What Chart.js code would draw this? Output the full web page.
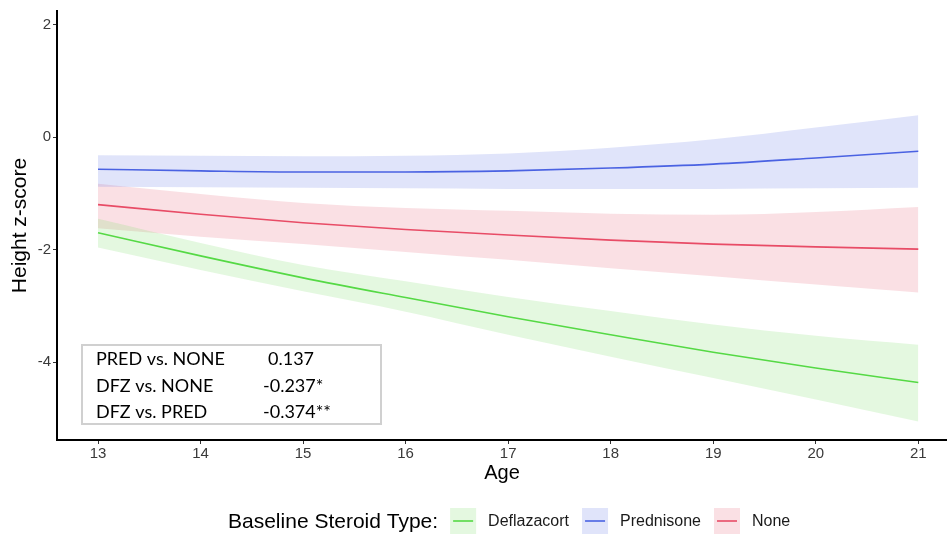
<!DOCTYPE html>
<html>
<head>
<meta charset="utf-8">
<script src="https://cdn.jsdelivr.net/npm/chart.js@4/dist/chart.umd.min.js"></script>
<style>
  html, body { margin: 0; padding: 0; background: #fff; overflow: hidden; }
  #wrap { width: 947px; height: 536px; }
</style>
</head>
<body>
<div id="wrap"><canvas id="c" width="947" height="536"></canvas></div>
<script>
// ---- data ----
const ages = [13, 14, 15, 16, 17, 18, 19, 20, 21];
const seriesNames = ['Deflazacort', 'Prednisone', 'None'];

const dfzMean  = [-1.70, -2.11, -2.50, -2.85, -3.19, -3.51, -3.82, -4.10, -4.36];
const dfzUpper = [-1.45, -1.88, -2.27, -2.56, -2.84, -3.09, -3.33, -3.53, -3.69];
const dfzLower = [-1.96, -2.36, -2.74, -3.10, -3.51, -3.90, -4.28, -4.66, -5.05];

const predMean  = [-0.57, -0.60, -0.62, -0.62, -0.60, -0.55, -0.48, -0.37, -0.25];
const predUpper = [-0.32, -0.33, -0.34, -0.33, -0.29, -0.19, -0.04, 0.17, 0.39];
const predLower = [-0.88, -0.89, -0.90, -0.91, -0.92, -0.92, -0.92, -0.91, -0.90];

const noneMean  = [-1.20, -1.37, -1.52, -1.64, -1.74, -1.83, -1.90, -1.95, -1.99];
const noneUpper = [-0.83, -1.01, -1.17, -1.26, -1.31, -1.36, -1.38, -1.33, -1.24];
const noneLower = [-1.62, -1.77, -1.90, -2.04, -2.18, -2.33, -2.47, -2.62, -2.76];

const xTicks = [13, 14, 15, 16, 17, 18, 19, 20, 21];
const yTicks = [-4, -2, 0, 2];

const contrastLabels = ['PRED vs. NONE', 'DFZ vs. NONE', 'DFZ vs. PRED'];
const contrastValues = ['0.137', '-0.237*', '-0.374**'];

const legendTitle = 'Baseline Steroid Type:';
const xTitle = 'Age';
const yTitle = 'Height z-score';

// ---- styles ----
const lineColors = ['#55d945', '#4a62e2', '#e84c66'];
const fillColors = ['rgba(120,220,100,0.2)', 'rgba(100,120,230,0.2)', 'rgba(230,100,120,0.2)'];
const keyFills   = ['rgb(228,248,224)', 'rgb(224,228,250)', 'rgb(250,224,228)'];

const pts = arr => ages.map((a, i) => ({ x: a, y: arr[i] }));

const groups = [
  [dfzMean, dfzUpper, dfzLower],
  [predMean, predUpper, predLower],
  [noneMean, noneUpper, noneLower]
];

const datasets = [];
groups.forEach((g, gi) => {
  datasets.push({
    label: seriesNames[gi] + ' upper', data: pts(g[1]),
    borderWidth: 0, pointRadius: 0, backgroundColor: fillColors[gi],
    fill: { target: '+1' }, cubicInterpolationMode: 'monotone'
  });
  datasets.push({
    label: seriesNames[gi] + ' lower', data: pts(g[2]),
    borderWidth: 0, pointRadius: 0, fill: false, cubicInterpolationMode: 'monotone'
  });
  datasets.push({
    label: seriesNames[gi], data: pts(g[0]),
    borderColor: lineColors[gi], borderWidth: 1.6, pointRadius: 0,
    fill: false, cubicInterpolationMode: 'monotone'
  });
});

const overlayPlugin = {
  id: 'overlay',
  afterDraw(chart) {
    const ctx = chart.ctx;
    ctx.save();
    // contrast box
    ctx.fillStyle = '#fff';
    ctx.fillRect(82, 345, 299, 79);
    ctx.strokeStyle = '#d0d0d0';
    ctx.lineWidth = 2;
    ctx.strokeRect(82, 345, 299, 79);
    ctx.fillStyle = '#000';
    ctx.font = '18px Lato';
    ctx.textBaseline = 'alphabetic';
    ctx.textAlign = 'left';
    const baselines = [365, 392, 418];
    contrastLabels.forEach((t, i) => {
      ctx.fillText(t, 96, baselines[i]);
      ctx.fillText(contrastValues[i], i === 0 ? 268 : 263, baselines[i]);
    });

    // legend
    const cy = 521;
    let x = 228;
    ctx.textBaseline = 'middle';
    ctx.fillStyle = '#000';
    ctx.font = '21px "Liberation Sans"';
    ctx.fillText(legendTitle, x, cy + 1);
    x += ctx.measureText(legendTitle).width + 12;
    ctx.font = '16px "Liberation Sans"';
    seriesNames.forEach((name, i) => {
      ctx.fillStyle = keyFills[i];
      ctx.fillRect(x, 508, 26, 26);
      ctx.strokeStyle = lineColors[i];
      ctx.lineWidth = 1.6;
      ctx.beginPath();
      ctx.moveTo(x + 3, cy);
      ctx.lineTo(x + 23, cy);
      ctx.stroke();
      x += 26 + 12;
      ctx.fillStyle = '#1a1a1a';
      ctx.fillText(name, x, cy + 1);
      x += ctx.measureText(name).width + 13;
    });
    ctx.restore();
  }
};

new Chart(document.getElementById('c'), {
  type: 'line',
  data: { datasets },
  options: {
    responsive: false,
    devicePixelRatio: 1,
    animation: false,
    layout: { padding: { left: 0, right: 0, top: 9, bottom: 50 } },
    plugins: {
      legend: { display: false },
      tooltip: { enabled: false },
      filler: { drawTime: 'beforeDatasetsDraw', propagate: false }
    },
    scales: {
      x: {
        type: 'linear',
        min: 12.6, max: 21.28,
        afterFit(s) { s.height = 46; },
        afterBuildTicks(s) { s.ticks = xTicks.map(v => ({ value: v })); },
        grid: { drawOnChartArea: false, drawTicks: true, tickLength: 4, color: '#333', lineWidth: 1 },
        border: { display: true, color: '#000', width: 2 },
        ticks: { padding: 1, color: '#3a3a3a', font: { family: 'Liberation Sans', size: 15 }, maxRotation: 0 },
        title: { display: true, text: xTitle, color: '#000', font: { family: 'Liberation Sans', size: 20 }, padding: { top: 0, bottom: 1 } }
      },
      y: {
        type: 'linear',
        min: -5.38, max: 2.24,
        afterFit(s) { s.width = 57; },
        afterBuildTicks(s) { s.ticks = yTicks.map(v => ({ value: v })); },
        grid: { drawOnChartArea: false, drawTicks: true, tickLength: 4, color: '#333', lineWidth: 1 },
        border: { display: true, color: '#000', width: 2 },
        ticks: { padding: 2, color: '#3a3a3a', font: { family: 'Liberation Sans', size: 15 } },
        title: { display: true, text: yTitle, color: '#000', font: { family: 'Liberation Sans', size: 21 }, padding: { top: 8, bottom: 0 } }
      }
    }
  },
  plugins: [overlayPlugin]
});
</script>
</body>
</html>
